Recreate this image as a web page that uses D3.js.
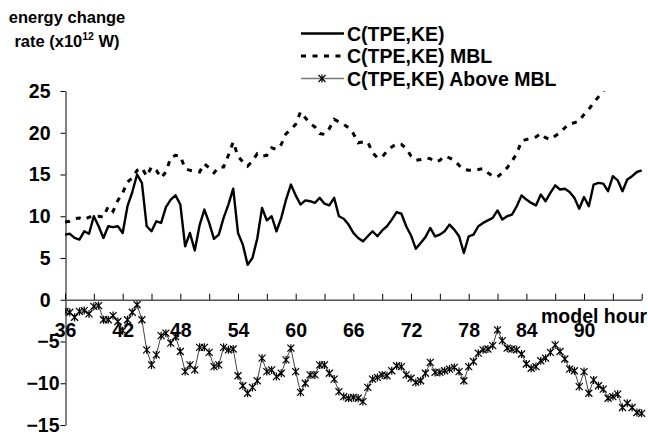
<!DOCTYPE html>
<html>
<head>
<meta charset="utf-8">
<script src="https://cdn.jsdelivr.net/npm/d3@7"></script>
<style>
  body { margin: 0; background: white; }
  svg { display: block; font-family: "Liberation Sans", Arial, sans-serif; font-weight: bold; }
</style>
</head>
<body>
<svg id="graph"></svg>
<script>
// half-hourly model output, hours 36..96
var hours = d3.range(36, 96.01, 0.5);

var tpeKe = [7.8, 7.9, 7.4, 7.2, 8.2, 7.9, 10.0, 8.8, 7.4, 8.8, 8.7, 8.8,
  8.0, 11.2, 12.9, 15.0, 14.0, 8.8, 8.2, 9.4, 9.2, 11.1, 12.0, 12.5,
  11.4, 6.4, 8.0, 5.9, 8.9, 10.8, 9.2, 7.3, 7.8, 9.8, 11.4, 13.3,
  8.0, 6.6, 4.2, 5.0, 7.3, 11.0, 9.5, 10.0, 8.2, 9.8, 12.0, 13.8,
  12.5, 11.4, 11.9, 11.8, 11.6, 12.2, 11.5, 11.3, 12.2, 10.0, 9.7, 9.0,
  8.0, 7.4, 7.0, 7.6, 8.2, 7.6, 8.3, 8.8, 9.6, 10.5, 10.3, 8.8,
  7.7, 6.1, 6.8, 7.5, 8.6, 7.6, 7.8, 8.2, 9.0, 8.4, 7.6, 5.6,
  7.6, 7.8, 8.8, 9.2, 9.5, 9.8, 10.7, 9.6, 10.0, 10.2, 11.2, 12.5,
  12.0, 11.6, 11.3, 12.6, 11.8, 12.8, 13.7, 13.2, 13.3, 12.9, 12.2, 10.9,
  12.3, 11.2, 13.8, 14.0, 13.9, 13.0, 14.8, 14.3, 13.0, 14.4, 14.8, 15.3, 15.5];

var tpeKeMBL = [9.3, 9.4, 9.7, 9.8, 9.6, 9.9, 10.0, 10.0, 9.9, 11.2, 10.6, 11.9,
  12.8, 14.1, 14.6, 15.5, 15.8, 14.8, 15.9, 15.5, 14.6, 15.3, 17.0, 17.3,
  17.2, 15.7, 15.5, 15.4, 15.3, 16.3, 15.8, 15.2, 15.9, 15.9, 17.3, 18.9,
  17.2, 16.5, 16.0, 16.6, 17.5, 17.2, 17.3, 18.2, 18.0, 18.6, 19.9, 20.4,
  21.0, 22.5, 21.8, 21.1, 20.7, 19.9, 19.8, 20.5, 21.6, 21.3, 21.0, 20.6,
  19.9, 18.8, 18.9, 18.9, 17.6, 17.0, 17.1, 17.8, 18.3, 18.7, 18.6, 18.1,
  17.2, 16.7, 16.8, 17.0, 16.9, 16.5, 16.7, 17.2, 17.0, 16.7, 16.1, 15.6,
  15.5, 15.5, 15.6, 15.7, 15.2, 14.8, 14.7, 15.2, 15.8, 16.6, 17.5, 19.0,
  19.2, 19.3, 19.5, 19.9, 19.4, 19.2, 19.6, 20.0, 20.6, 21.1, 21.2, 21.4,
  22.2, 22.8, 23.6, 24.3, 25.0, 25.6, 26.2, 26.8, 27.4, 28.0, 28.5, 29.1, 29.6];

var tpeKeAbove = [-1.4, -1.5, -2.1, -1.4, -1.3, -1.7, -0.8, -0.7, -2.4, -2.4, -1.9, -2.6,
  -3.7, -2.4, -1.5, -0.6, -2.4, -6.0, -7.8, -6.6, -4.3, -4.0, -5.2, -4.4,
  -6.2, -8.6, -7.8, -8.4, -5.7, -5.7, -6.3, -8.0, -7.8, -5.7, -6.0, -5.9,
  -9.1, -10.3, -11.2, -10.5, -9.7, -7.0, -8.6, -8.4, -9.2, -8.8, -7.2, -5.8,
  -8.6, -11.1, -10.0, -9.0, -9.0, -7.8, -7.8, -8.8, -9.5, -11.0, -11.6, -11.8,
  -11.7, -11.8, -12.2, -10.5, -9.5, -9.3, -9.0, -9.1, -8.5, -7.9, -8.0, -9.0,
  -9.4, -9.9, -9.7, -8.8, -7.5, -8.7, -8.7, -8.5, -8.3, -8.1, -8.6, -9.7,
  -8.0, -7.4, -6.4, -6.0, -5.9, -5.5, -3.6, -4.9, -5.8, -5.9, -6.0, -6.5,
  -7.7, -8.2, -8.0, -7.3, -7.0, -6.3, -5.4, -6.2, -7.1, -8.3, -8.5, -10.4,
  -8.6, -11.2, -9.6, -10.3, -10.7, -11.8, -11.6, -11.3, -12.9, -12.4, -12.9, -13.5, -13.6];

var yTicks = [-15, -10, -5, 0, 5, 10, 15, 20, 25];
var xTicks = d3.range(36, 96.01, 3);
var xLabels = [36, 42, 48, 54, 60, 66, 72, 78, 84, 90];
var legendLabels = ["C(TPE,KE)", "C(TPE,KE) MBL", "C(TPE,KE) Above MBL"];

var screen = {width: 648, height: 435};
var plot = {left: 65, right: 641.7, top: 91, bottom: 425};

var svg = d3.select("#graph")
  .attr("width", screen.width)
  .attr("height", screen.height);

var xScale = d3.scaleLinear().domain([36, 96]).range([plot.left, plot.right]);
var yScale = d3.scaleLinear().domain([-15, 25]).range([plot.bottom, plot.top]);

svg.append("defs").append("clipPath").attr("id", "plotClip")
  .append("rect")
  .attr("x", plot.left).attr("y", plot.top)
  .attr("width", plot.right - plot.left + 6)
  .attr("height", plot.bottom - plot.top);

// y axis
var yAxis = d3.axisLeft(yScale).tickValues(yTicks).tickSizeInner(5).tickSizeOuter(0);
var yG = svg.append("g")
  .attr("transform", "translate(" + (plot.left + 0.5) + ",0)")
  .call(yAxis);
yG.selectAll("text")
  .attr("x", function(d){ return d < 0 ? -6 : -15; })
  .attr("font-size", 19.5)
  .attr("font-family", "Liberation Sans, Arial, sans-serif")
  .attr("font-weight", "bold")
  .attr("fill", "black");

// x axis sits on y = 0, ticks pointing up
var xAxis = d3.axisBottom(xScale).tickValues(xTicks)
  .tickSizeInner(-6).tickSizeOuter(0).tickPadding(23)
  .tickFormat(function(d){ return xLabels.indexOf(d) >= 0 ? d : ""; });
var xG = svg.append("g")
  .attr("transform", "translate(0," + yScale(0) + ")")
  .call(xAxis);
xG.selectAll("text")
  .attr("font-size", 19.5)
  .attr("font-family", "Liberation Sans, Arial, sans-serif")
  .attr("font-weight", "bold")
  .attr("fill", "black");
xG.select(".domain").attr("stroke", "#555").attr("stroke-width", 1.5);

svg.append("text")
  .attr("x", 541)
  .attr("y", 323)
  .attr("font-size", 19.5)
  .text("model hour");

// axis title
var title = svg.append("g").attr("font-size", 16.5).attr("text-anchor", "middle");
title.append("text").attr("x", 67).attr("y", 23).text("energy change");
var t2 = title.append("text").attr("x", 67).attr("y", 47);
t2.append("tspan").text("rate (x10");
t2.append("tspan").attr("font-size", 10.5).attr("dy", -7).text("12");
t2.append("tspan").attr("dy", 7).text(" W)");

// series
var line = function(values){
  return d3.line()
    .x(function(d, i){ return xScale(hours[i]); })
    .y(function(d){ return yScale(d); })(values);
};

var series = svg.append("g").attr("clip-path", "url(#plotClip)");

series.append("path")
  .attr("d", line(tpeKe))
  .attr("fill", "none")
  .attr("stroke", "black")
  .attr("stroke-width", 2.4)
  .attr("stroke-linejoin", "round");

series.append("path")
  .attr("d", line(tpeKeMBL))
  .attr("fill", "none")
  .attr("stroke", "black")
  .attr("stroke-width", 3)
  .attr("stroke-dasharray", "5,6.5");

series.append("path")
  .attr("d", line(tpeKeAbove))
  .attr("fill", "none")
  .attr("stroke", "#444")
  .attr("stroke-width", 1);

var star = "M-3.5,-3.5L3.5,3.5M-3.5,3.5L3.5,-3.5M0,-4L0,4";

series.selectAll(".star")
  .data(tpeKeAbove)
  .enter()
  .append("path")
  .classed("star", true)
  .attr("transform", function(d, i){ return "translate(" + xScale(hours[i]) + "," + yScale(d) + ")"; })
  .attr("d", star)
  .attr("fill", "none")
  .attr("stroke", "black")
  .attr("stroke-width", 1.2);

// legend
var legend = svg.append("g").attr("font-size", 19.5);
var legendRows = legend.selectAll("g")
  .data(legendLabels)
  .enter()
  .append("g")
  .attr("transform", function(d, i){ return "translate(0," + (33.5 + i * 22.5) + ")"; });

legendRows.append("line")
  .attr("x1", 301).attr("x2", 344)
  .attr("y1", 0).attr("y2", 0)
  .attr("stroke", function(d, i){ return i == 2 ? "#777" : "black"; })
  .attr("stroke-width", function(d, i){ return i == 0 ? 2.4 : (i == 1 ? 3 : 1.5); })
  .attr("stroke-dasharray", function(d, i){ return i == 1 ? "5,6.5" : null; });

legendRows.filter(function(d, i){ return i == 2; })
  .append("path")
  .attr("transform", "translate(322,0)")
  .attr("d", star)
  .attr("fill", "none")
  .attr("stroke", "black")
  .attr("stroke-width", 1.2);

legendRows.append("text")
  .attr("x", 347)
  .attr("y", 7)
  .text(function(d){ return d; });
</script>
</body>
</html>
